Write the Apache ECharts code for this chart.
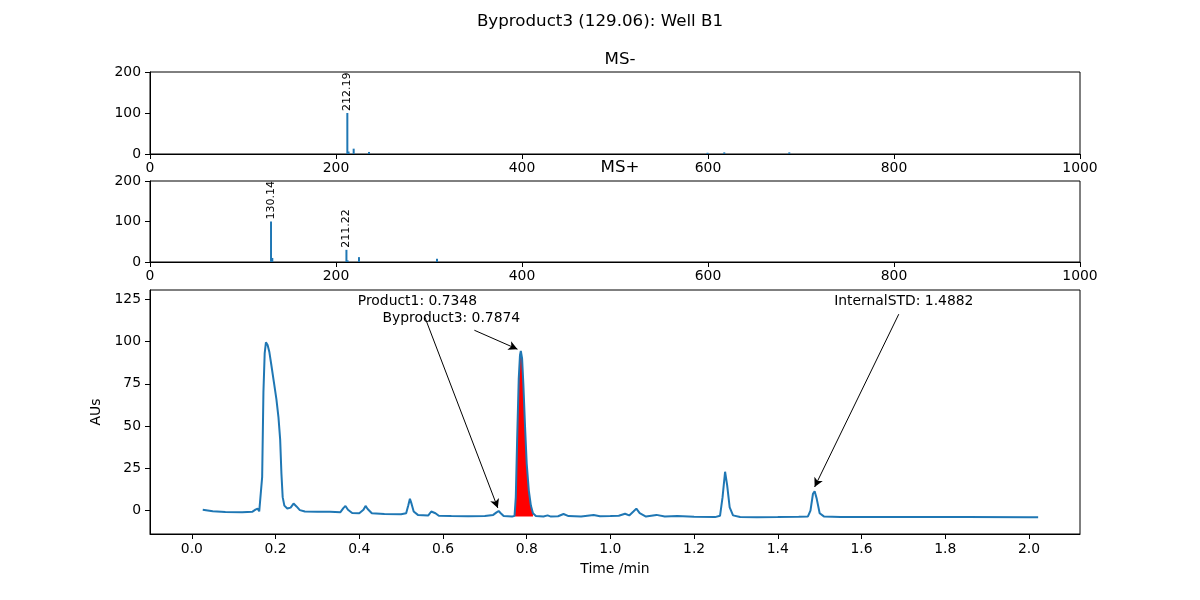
<!DOCTYPE html>
<html><head><meta charset="utf-8">
<script src="https://cdn.jsdelivr.net/npm/echarts@6/dist/echarts.min.js"></script>
<style>html,body{margin:0;padding:0;background:#fff}#c{width:1200px;height:600px}</style>
</head><body><div id="c"></div>
<script>
const chartTitle = 'Byproduct3 (129.06): Well B1';
const msNegTitle = 'MS-';
const msPosTitle = 'MS+';

// MS- spectrum
const msNegMz  = [212.19, 213.5, 219.0, 235.5, 599.5, 617.5, 687.4];
const msNegInt = [100, 6, 13, 5, 3, 4, 4];
// MS+ spectrum
const msPosMz  = [130.14, 131.5, 211.22, 212.5, 224.7, 308.6];
const msPosInt = [100, 10, 30, 4, 12, 8];
const msLabelThreshold = 20;

const msXTicks = [0, 200, 400, 600, 800, 1000];
const msYTicks = [0, 100, 200];

// Chromatogram
const chromTime = [0.026,0.05,0.08,0.12,0.145,0.152,0.157,0.161,0.165,0.168,0.171,0.174,0.177,0.181,0.185,0.19,0.196,0.202,0.207,0.211,0.214,0.217,0.221,0.228,0.236,0.243,0.25,0.258,0.27,0.3,0.33,0.355,0.362,0.367,0.373,0.383,0.4,0.41,0.415,0.42,0.43,0.46,0.5,0.512,0.517,0.521,0.525,0.53,0.54,0.565,0.572,0.576,0.582,0.59,0.62,0.66,0.7,0.72,0.728,0.733,0.738,0.745,0.765,0.771,0.774,0.777,0.781,0.784,0.786,0.789,0.792,0.796,0.8,0.805,0.81,0.815,0.822,0.84,0.85,0.858,0.875,0.888,0.9,0.93,0.96,0.975,1.0,1.02,1.035,1.045,1.055,1.062,1.07,1.085,1.11,1.13,1.16,1.2,1.25,1.262,1.268,1.274,1.279,1.285,1.293,1.31,1.35,1.4,1.45,1.472,1.478,1.484,1.488,1.493,1.5,1.51,1.55,1.7,1.85,2.0,2.022];
const chromAU = [0.5,-0.3,-0.8,-0.9,-0.6,0.6,1.2,-0.4,0.5,20,70,93,99.5,98,94,86,76,66,55,42,22,8,3,1.3,1.8,4.2,2.5,0.3,-0.5,-0.6,-0.7,-0.9,1.5,2.8,0.5,-1.4,-1.5,0.5,2.8,1.0,-1.5,-2,-2.1,-1.5,3,7,4,-0.5,-2.5,-2.8,-0.5,0.5,-1.5,-3,-3.2,-3.3,-3.1,-2.5,-1.0,-0.2,-1.5,-3.2,-3.5,-3,8,40,78,92,94.5,90,75,50,28,12,3,-1.5,-3.2,-3.5,-2.8,-3.5,-3.3,-2.0,-3.2,-3.5,-2.6,-3.3,-3.2,-3.0,-1.8,-2.8,-0.5,1.2,-1.5,-3.5,-2.5,-3.5,-3.2,-3.6,-3.8,-3,8,23,15,2,-2.8,-3.8,-3.9,-3.8,-3.6,-3.4,0,10,11.5,7,-1.5,-3.4,-3.8,-3.8,-3.8,-3.9,-3.9];

// integrated peak region (red fill)
const fillStart = 0.771;
const fillEnd = 0.815;
const fillBaseline = -3.5;

const chromXTicks = [0.0,0.2,0.4,0.6,0.8,1.0,1.2,1.4,1.6,1.8,2.0];
const chromYTicks = [0,25,50,75,100,125];

// annotations
const annText  = ['Product1: 0.7348', 'Byproduct3: 0.7874', 'InternalSTD: 1.4882'];
const annTextX = [0.539, 0.620, 1.701];
const annTextY = [123.8, 113.8, 123.8];
const annFromX = [0.556, 0.675, 1.689];
const annFromY = [114.9, 106.7, 116.2];
const annToX   = [0.731, 0.778, 1.488];
const annToY   = [1.6, 95.5, 14.0];

const FONT = 'DejaVu Sans';
const BLUE = '#1f77b4';
const TICK = 13.9;

function msAxisX(gi){
  return {type:'value', gridIndex:gi, min:0, max:1000, interval:200,
    axisLine:{show:true, onZero:false, lineStyle:{color:'#000', width:1}},
    axisTick:{show:true, length:5, lineStyle:{color:'#000'}},
    axisLabel:{color:'#000', fontSize:TICK, fontFamily:FONT, margin:7, formatter:v=>String(v)},
    splitLine:{show:false}};
}
function msAxisY(gi){
  return {type:'value', gridIndex:gi, min:0, max:200, interval:100,
    axisLine:{show:true, onZero:false, lineStyle:{color:'#000', width:1}},
    axisTick:{show:true, length:5, lineStyle:{color:'#000'}},
    axisLabel:{color:'#000', fontSize:TICK, fontFamily:FONT, margin:9, formatter:v=>String(v)},
    splitLine:{show:false}};
}
function msData(mz, inten){
  return mz.map((m,i)=>{
    const item = {value:[m, inten[i]]};
    if (inten[i] >= msLabelThreshold) {
      item.label = {show:true, position:'top', rotate:90, align:'left', verticalAlign:'middle',
        distance:2, formatter: m.toFixed(2), fontSize:11, fontFamily:FONT, color:'#000'};
    }
    return item;
  });
}

const chromData = chromTime.map((t,i)=>[t, chromAU[i]]);
const fillData = chromData.filter(p => p[0] >= fillStart && p[0] <= fillEnd);

const chart = echarts.init(document.getElementById('c'), null, {renderer:'canvas'});
chart.setOption({
  backgroundColor:'#fff',
  animation:false,
  title:[
    {text:chartTitle, left:'center', top:8, textStyle:{fontSize:16.7, fontWeight:'normal', color:'#000', fontFamily:FONT}},
    {text:msNegTitle, left:615, textAlign:'center', top:46, textStyle:{fontSize:16.7, fontWeight:'normal', color:'#000', fontFamily:FONT}},
    {text:msPosTitle, left:615, textAlign:'center', top:154, textStyle:{fontSize:16.7, fontWeight:'normal', color:'#000', fontFamily:FONT}}
  ],
  grid:[
    {left:150, right:120, top:72, height:82, show:true, borderColor:'#000', borderWidth:1},
    {left:150, right:120, top:181, height:81, show:true, borderColor:'#000', borderWidth:1},
    {left:150, right:120, top:290, height:244, show:true, borderColor:'#000', borderWidth:1}
  ],
  xAxis:[
    msAxisX(0), msAxisX(1),
    {type:'value', gridIndex:2, min:-0.1, max:2.122,
      name:'Time /min', nameLocation:'middle', nameGap:28,
      nameTextStyle:{color:'#000', fontSize:TICK, fontFamily:FONT},
      axisLine:{show:true, onZero:false, lineStyle:{color:'#000', width:1}},
      axisTick:{show:true, length:5, lineStyle:{color:'#000'}, customValues:chromXTicks},
      axisLabel:{color:'#000', fontSize:TICK, fontFamily:FONT, margin:8, customValues:chromXTicks,
        formatter:v=>v.toFixed(1)},
      splitLine:{show:false}}
  ],
  yAxis:[
    msAxisY(0), msAxisY(1),
    {type:'value', gridIndex:2, min:-13.8, max:130.5,
      name:'AUs', nameLocation:'middle', nameGap:43, nameRotate:90,
      nameTextStyle:{color:'#000', fontSize:TICK, fontFamily:FONT},
      axisLine:{show:true, onZero:false, lineStyle:{color:'#000', width:1}},
      axisTick:{show:true, length:5, lineStyle:{color:'#000'}, customValues:chromYTicks},
      axisLabel:{color:'#000', fontSize:TICK, fontFamily:FONT, margin:9, customValues:chromYTicks,
        formatter:v=>String(Math.round(v))},
      splitLine:{show:false}}
  ],
  series:[
    {type:'bar', xAxisIndex:0, yAxisIndex:0, barWidth:2, itemStyle:{color:BLUE}, data:msData(msNegMz, msNegInt), silent:true},
    {type:'bar', xAxisIndex:1, yAxisIndex:1, barWidth:2, itemStyle:{color:BLUE}, data:msData(msPosMz, msPosInt), silent:true},
    {type:'line', xAxisIndex:2, yAxisIndex:2, data:fillData, showSymbol:false, symbol:'none',
      lineStyle:{width:0}, areaStyle:{color:'#ff0000', opacity:1, origin:fillBaseline}, z:1, silent:true},
    {type:'line', xAxisIndex:2, yAxisIndex:2, data:chromData, showSymbol:false, symbol:'none',
      lineStyle:{color:BLUE, width:2}, z:3, silent:true,
      markLine:{silent:true, symbol:['none','arrow'], symbolSize:[7,9],
        lineStyle:{color:'#000', width:1, type:'solid'}, label:{show:false},
        data: annText.map((_,i)=>[{coord:[annFromX[i], annFromY[i]]},{coord:[annToX[i], annToY[i]]}])},
      markPoint:{silent:true,
        data: annText.map((txt,i)=>({coord:[annTextX[i], annTextY[i]], symbol:'circle', symbolSize:0,
          itemStyle:{color:'transparent'},
          label:{show:true, position:'inside', formatter:txt, color:'#000', fontSize:TICK, fontFamily:FONT}}))}
    }
  ]
});
</script>
</body></html>
